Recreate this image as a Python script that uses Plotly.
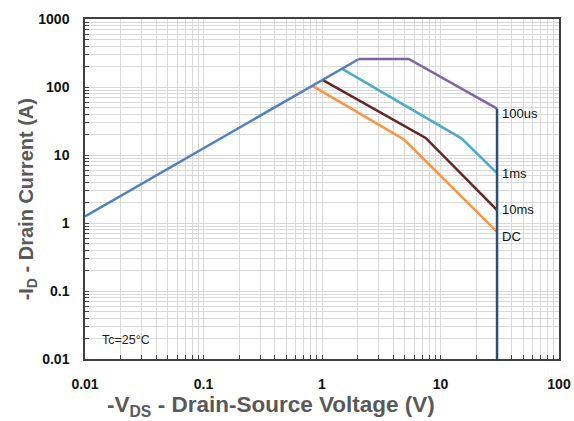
import math
import plotly.graph_objects as go

# Safe operating area data
v_rds = [0.01, 2.05]
i_rds = [1.25, 258]
v_100us = [2.05, 5.4, 30]
i_100us = [258, 258, 48]
v_1ms = [1.48, 15.0, 30]
i_1ms = [185, 17.6, 5.4]
v_10ms = [1.01, 7.5, 30]
i_10ms = [127, 17.8, 1.55]
v_dc = [0.83, 4.9, 30]
i_dc = [104, 17.0, 0.74]
v_limit = [30, 30]
i_limit = [48, 0.01]

x_decades = [0.01, 0.1, 1, 10, 100]
y_decades = [0.01, 0.1, 1, 10, 100, 1000]
x_dec_labels = ["0.01", "0.1", "1", "10", "100"]
y_dec_labels = ["0.01", "0.1", "1", "10", "100", "1000"]

series_labels = ["100us", "1ms", "10ms", "DC"]
label_y = [48, 5.4, 1.55, 0.74]
label_shift = [-5, 0, 1, -5]


def log_ticks(decades, labels):
    vals, texts = [], []
    for k, d in enumerate(decades):
        if k < len(decades) - 1:
            for m in range(1, 10):
                vals.append(d * m)
                texts.append("<b>%s</b>" % labels[k] if m == 1 else "")
        else:
            vals.append(d)
            texts.append("<b>%s</b>" % labels[k])
    return vals, texts


xv, xt = log_ticks(x_decades, x_dec_labels)
yv, yt = log_ticks(y_decades, y_dec_labels)

fig = go.Figure()
lw = 2.5
fig.add_trace(go.Scatter(x=v_dc, y=i_dc, mode="lines", line=dict(color="#F79646", width=lw)))
fig.add_trace(go.Scatter(x=v_10ms, y=i_10ms, mode="lines", line=dict(color="#632523", width=lw)))
fig.add_trace(go.Scatter(x=v_1ms, y=i_1ms, mode="lines", line=dict(color="#4BACC6", width=lw)))
fig.add_trace(go.Scatter(x=v_100us, y=i_100us, mode="lines", line=dict(color="#8064A2", width=lw)))
fig.add_trace(go.Scatter(x=v_rds, y=i_rds, mode="lines", line=dict(color="#4F81BD", width=lw)))
fig.add_trace(go.Scatter(x=v_limit, y=i_limit, mode="lines", line=dict(color="#2C4D75", width=lw)))

font_family = "Liberation Sans, Arial, sans-serif"

for lab, ly, sh in zip(series_labels, label_y, label_shift):
    fig.add_annotation(x=math.log10(v_limit[0]), y=math.log10(ly), xref="x", yref="y",
                       text=lab, showarrow=False,
                       xanchor="left", yanchor="middle", xshift=3, yshift=sh,
                       font=dict(family=font_family, size=13, color="#111111"))

fig.add_annotation(x=math.log10(0.0135), y=math.log10(0.019), xref="x", yref="y",
                   text="Tc=25°C", showarrow=False, xanchor="left", yanchor="middle",
                   font=dict(family=font_family, size=12.5, color="#222222"))

fig.add_annotation(x=(271 - 85) / 474, y=(359 - 406) / 340, xref="paper", yref="paper",
                   xanchor="center", yanchor="middle",
                   text="<b>-V<sub>DS</sub> - Drain-Source Voltage (V)</b>", showarrow=False,
                   font=dict(family=font_family, size=22.5, color="#595959"))
fig.add_annotation(x=-0.122, y=0.47, xref="paper", yref="paper", textangle=-90,
                   xanchor="center", yanchor="middle",
                   text="<b>-I<sub>D</sub> - Drain Current (A)</b>", showarrow=False,
                   font=dict(family=font_family, size=20, color="#595959"))

axis_common = dict(type="log", showgrid=True, gridcolor="#D9D9D9", gridwidth=1,
                   ticks="inside", ticklen=4, tickcolor="#404040", tickwidth=1,
                   showline=True, linecolor="#404040", linewidth=1.5, mirror=True,
                   zeroline=False, tickmode="array", automargin=False,
                   tickfont=dict(family=font_family, size=14, color="#111111"))

fig.update_xaxes(range=[-2, 2], tickvals=xv, ticktext=xt, ticklabelstandoff=11, **axis_common)
fig.update_yaxes(range=[-2, 3], tickvals=yv, ticktext=yt, ticklabelstandoff=11, **axis_common)

fig.update_layout(width=574, height=421, showlegend=False,
                  margin=dict(l=85, r=15, t=19, b=62),
                  plot_bgcolor="white", paper_bgcolor="white")

fig.write_html("out.html")
